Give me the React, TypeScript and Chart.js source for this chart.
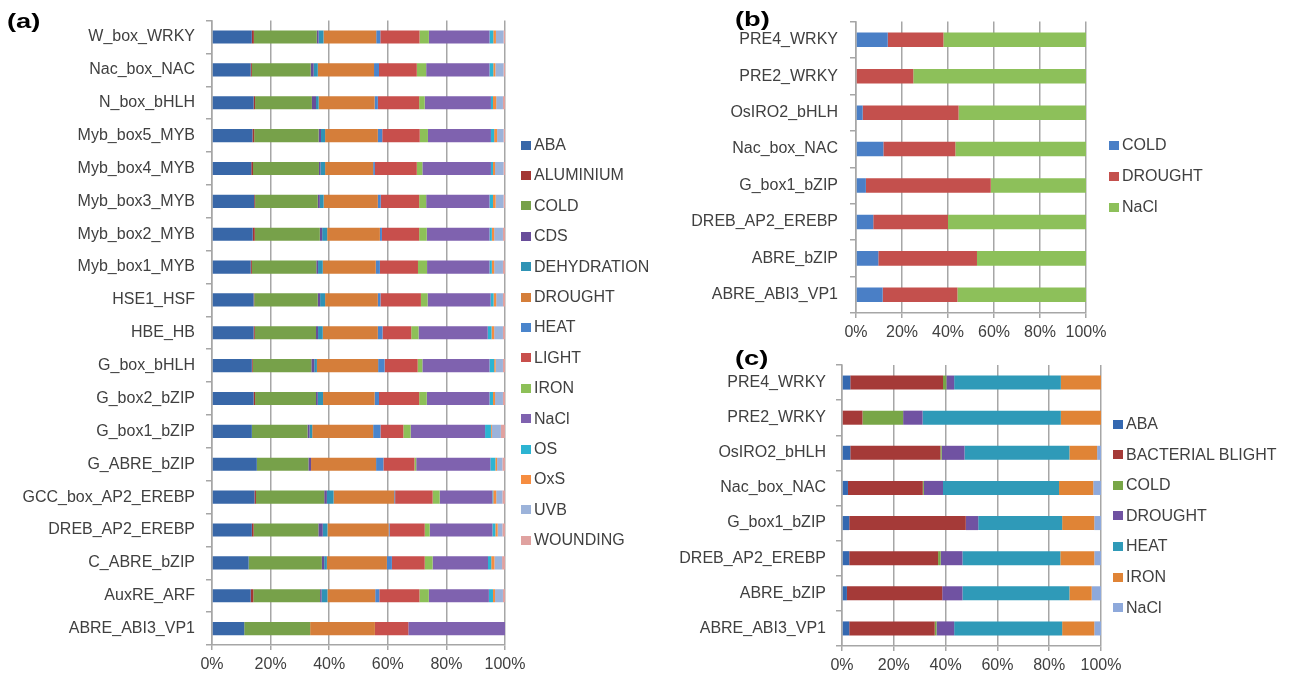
import React, { useEffect, useRef } from "react";
import { Chart, registerables } from "chart.js";

Chart.register(...registerables);

const FONT = "'Liberation Sans', Arial, sans-serif";
const TEXT = "#404040";
const GRID = "#A6A6A6";

// ---------- Panel (a) ----------
const catsA = [
  "W_box_WRKY", "Nac_box_NAC", "N_box_bHLH", "Myb_box5_MYB", "Myb_box4_MYB",
  "Myb_box3_MYB", "Myb_box2_MYB", "Myb_box1_MYB", "HSE1_HSF", "HBE_HB",
  "G_box_bHLH", "G_box2_bZIP", "G_box1_bZIP", "G_ABRE_bZIP", "GCC_box_AP2_EREBP",
  "DREB_AP2_EREBP", "C_ABRE_bZIP", "AuxRE_ARF", "ABRE_ABI3_VP1",
];
const abaA = [13.6, 13.2, 14.2, 13.8, 13.4, 14.4, 13.9, 13.2, 14.2, 14.2, 13.6, 14.2, 13.6, 15.3, 14.5, 13.6, 12.5, 13.2, 11.0];
const aluminiumA = [0.7, 0.4, 0.5, 0.6, 0.6, 0.3, 0.7, 0.4, 0.2, 0.4, 0.3, 0.5, 0, 0, 0.5, 0.6, 0, 0.9, 0];
const coldA = [21.5, 20.1, 19.4, 22.0, 22.5, 21.4, 22.2, 22.0, 21.7, 20.9, 20.0, 20.8, 19.0, 17.6, 23.3, 22.1, 25.0, 22.8, 22.5];
const cdsA = [0.6, 1.0, 1.4, 0.8, 0.5, 0.7, 0.8, 0.6, 0.8, 0.7, 1.0, 0.6, 0.7, 0.9, 0.9, 1.5, 0.8, 0.5, 0];
const dehydrationA = [1.7, 1.4, 0.9, 1.4, 1.6, 1.3, 1.7, 1.6, 1.7, 1.6, 0.9, 1.8, 0.9, 0, 2.3, 1.6, 0.9, 2.0, 0];
const droughtA = [18.0, 19.2, 19.1, 18.0, 16.4, 18.5, 18.0, 18.1, 18.0, 18.8, 20.9, 17.6, 20.8, 22.2, 20.7, 20.9, 20.5, 16.3, 22.1];
const heatA = [1.4, 1.7, 1.1, 1.5, 0.6, 1.0, 0.7, 1.4, 0.9, 1.6, 2.2, 1.5, 2.5, 2.5, 0.3, 0.3, 1.7, 1.4, 0];
const lightA = [13.4, 12.9, 14.1, 12.8, 14.3, 13.1, 12.7, 13.0, 13.8, 9.8, 11.3, 13.7, 7.8, 10.6, 12.8, 12.0, 11.2, 13.7, 11.4];
const ironA = [3.2, 3.2, 1.9, 2.8, 1.9, 2.4, 2.6, 3.1, 2.3, 2.5, 1.6, 2.6, 2.5, 0.6, 2.4, 1.7, 2.7, 3.2, 0];
const naclA = [20.7, 21.6, 22.6, 21.5, 23.4, 21.6, 21.4, 21.3, 21.5, 23.6, 22.9, 21.4, 25.4, 25.3, 18.0, 21.4, 18.9, 20.5, 33.0];
const osA = [1.3, 1.3, 0.7, 1.1, 0.7, 1.2, 0.8, 0.8, 1.0, 1.3, 1.6, 1.2, 2.0, 1.7, 0.3, 1.0, 1.1, 1.4, 0];
const oxsA = [0.9, 0.7, 1.1, 1.0, 0.7, 0.9, 0.8, 0.8, 0.9, 0.9, 0.5, 0.7, 0.3, 0.6, 1.0, 0.8, 1.1, 0.7, 0];
const uvbA = [2.6, 2.8, 2.3, 2.2, 2.9, 2.7, 3.0, 3.0, 2.3, 3.0, 2.5, 2.7, 3.1, 1.8, 2.1, 1.6, 2.6, 2.7, 0];
const woundingA = [0.5, 0.5, 0.7, 0.5, 0.5, 0.5, 0.7, 0.7, 0.7, 0.7, 0.7, 0.7, 1.4, 0.9, 0.9, 0.9, 1.0, 0.7, 0];

// ---------- Panels (b) and (c) ----------
const catsBC = [
  "PRE4_WRKY", "PRE2_WRKY", "OsIRO2_bHLH", "Nac_box_NAC",
  "G_box1_bZIP", "DREB_AP2_EREBP", "ABRE_bZIP", "ABRE_ABI3_VP1",
];
const coldB = [13.8, 0, 2.9, 11.9, 4.3, 7.5, 9.7, 11.6];
const droughtB = [24.2, 24.9, 41.7, 31.3, 54.3, 32.5, 42.9, 32.5];
const naclB = [62.0, 75.1, 55.4, 56.8, 41.4, 60.0, 47.4, 55.9];

const abaC = [3.2, 0, 3.2, 2.3, 2.8, 2.8, 1.9, 2.8];
const blightC = [35.8, 7.9, 34.8, 28.9, 45.0, 34.3, 36.8, 33.0];
const coldC = [1.3, 15.7, 0.5, 0.4, 0, 1.0, 0, 0.7];
const droughtC = [3.0, 7.5, 8.8, 7.4, 4.8, 8.4, 7.8, 6.8];
const heatC = [41.2, 53.4, 40.5, 44.8, 32.4, 37.8, 41.3, 41.7];
const ironC = [15.5, 15.5, 10.7, 13.2, 12.4, 13.1, 8.6, 12.4];
const naclC = [0, 0, 1.5, 3.0, 2.6, 2.6, 3.6, 2.6];

const xTicks = [0, 20, 40, 60, 80, 100];

type Series = { label: string; data: number[]; color: string };

const seriesA: Series[] = [
  { label: "ABA", data: abaA, color: "#3867A8" },
  { label: "ALUMINIUM", data: aluminiumA, color: "#A33633" },
  { label: "COLD", data: coldA, color: "#77A14A" },
  { label: "CDS", data: cdsA, color: "#684D9A" },
  { label: "DEHYDRATION", data: dehydrationA, color: "#2F93B5" },
  { label: "DROUGHT", data: droughtA, color: "#D57E3A" },
  { label: "HEAT", data: heatA, color: "#4A85CC" },
  { label: "LIGHT", data: lightA, color: "#C84F4C" },
  { label: "IRON", data: ironA, color: "#8DC058" },
  { label: "NaCl", data: naclA, color: "#7F62AF" },
  { label: "OS", data: osA, color: "#2CB4D2" },
  { label: "OxS", data: oxsA, color: "#F68D40" },
  { label: "UVB", data: uvbA, color: "#9CB3DA" },
  { label: "WOUNDING", data: woundingA, color: "#E0A2A0" },
];

const seriesB: Series[] = [
  { label: "COLD", data: coldB, color: "#4A7FC6" },
  { label: "DROUGHT", data: droughtB, color: "#C4504D" },
  { label: "NaCl", data: naclB, color: "#8DC05A" },
];

const seriesC: Series[] = [
  { label: "ABA", data: abaC, color: "#3468B0" },
  { label: "BACTERIAL BLIGHT", data: blightC, color: "#A53A38" },
  { label: "COLD", data: coldC, color: "#78A647" },
  { label: "DROUGHT", data: droughtC, color: "#7052A2" },
  { label: "HEAT", data: heatC, color: "#2F9AB8" },
  { label: "IRON", data: ironC, color: "#E08436" },
  { label: "NaCl", data: naclC, color: "#8EA9DB" },
];

function toPercent(series: Series[]): Series[] {
  const n = series[0].data.length;
  const sums = Array.from({ length: n }, (_, i) =>
    series.reduce((s, d) => s + d.data[i], 0)
  );
  return series.map((s) => ({
    ...s,
    data: s.data.map((v, i) => (sums[i] > 0 ? (v / sums[i]) * 100 : 0)),
  }));
}

type PanelProps = {
  labels: string[];
  series: Series[];
  left: number;
  top: number;
  width: number;
  height: number;
  axisWidth: number;
  padTop: number;
  padRight: number;
  xAxisHeight: number;
  labelPad: number;
};

function Panel(p: PanelProps) {
  const ref = useRef<HTMLCanvasElement>(null);
  useEffect(() => {
    const norm = toPercent(p.series);
    const font = { family: FONT, size: 16 };
    const chart = new Chart(ref.current as HTMLCanvasElement, {
      type: "bar",
      data: {
        labels: p.labels,
        datasets: norm.map((s) => ({
          label: s.label,
          data: s.data,
          backgroundColor: s.color,
          borderWidth: 0,
          barPercentage: 0.4,
          categoryPercentage: 1,
        })),
      },
      options: {
        indexAxis: "y",
        animation: false,
        responsive: false,
        maintainAspectRatio: false,
        layout: { padding: { top: p.padTop, right: p.padRight, left: 0, bottom: 0 } },
        plugins: { legend: { display: false }, tooltip: { enabled: false } },
        scales: {
          x: {
            stacked: true,
            min: 0,
            max: 100,
            afterBuildTicks: (scale: any) => {
              scale.ticks = xTicks.map((v) => ({ value: v }));
            },
            ticks: {
              callback: (v: any) => v + "%",
              color: TEXT,
              font,
              padding: 5,
              maxRotation: 0,
            },
            grid: { color: GRID, lineWidth: 1.5, tickLength: 5, tickColor: GRID },
            border: { color: GRID, width: 1.5 },
            afterFit: (scale: any) => {
              scale.height = p.xAxisHeight;
            },
          },
          y: {
            stacked: true,
            ticks: { color: TEXT, font, padding: p.labelPad, autoSkip: false },
            grid: {
              drawOnChartArea: false,
              tickLength: 6,
              color: GRID,
              tickColor: GRID,
              lineWidth: 1.5,
            },
            border: { color: GRID, width: 1.5 },
            afterFit: (scale: any) => {
              scale.width = p.axisWidth;
            },
          },
        },
      } as any,
    });
    return () => chart.destroy();
  }, []);
  return (
    <canvas
      ref={ref}
      width={p.width}
      height={p.height}
      style={{ position: "absolute", left: p.left, top: p.top, width: p.width, height: p.height }}
    />
  );
}

function Legend({ series, left, top, gap }: { series: Series[]; left: number; top: number; gap: number }) {
  return (
    <div style={{ position: "absolute", left, top: 0 }}>
      {series.map((s, i) => (
        <div
          key={s.label}
          style={{
            position: "absolute",
            left: 0,
            top: top + i * gap - 10,
            height: 20,
            display: "flex",
            alignItems: "center",
            whiteSpace: "nowrap",
            fontFamily: FONT,
            fontSize: 16,
            color: TEXT,
          }}
        >
          <span style={{ display: "inline-block", width: 10, height: 9, background: s.color, marginRight: 3 }} />
          {s.label}
        </div>
      ))}
    </div>
  );
}

function Title({ text, left, top }: { text: string; left: number; top: number }) {
  return (
    <div
      style={{
        position: "absolute",
        left,
        top,
        fontFamily: FONT,
        fontWeight: "bold",
        fontSize: 21,
        lineHeight: "21px",
        color: "#000",
        transform: "scaleX(1.3)",
        transformOrigin: "left top",
        whiteSpace: "nowrap",
      }}
    >
      {text}
    </div>
  );
}

export default function App() {
  return (
    <div
      style={{
        position: "absolute",
        left: 0,
        top: 0,
        width: 1292,
        height: 674,
        background: "#fff",
        overflow: "hidden",
      }}
    >
      <Panel
        labels={catsA}
        series={seriesA}
        left={0}
        top={0}
        width={540}
        height={674}
        axisWidth={212}
        padTop={20}
        padRight={35}
        xAxisHeight={29}
        labelPad={11}
      />
      <Panel
        labels={catsBC}
        series={seriesB}
        left={670}
        top={0}
        width={450}
        height={340}
        axisWidth={186}
        padTop={20}
        padRight={34}
        xAxisHeight={27}
        labelPad={12}
      />
      <Panel
        labels={catsBC}
        series={seriesC}
        left={660}
        top={340}
        width={470}
        height={334}
        axisWidth={182}
        padTop={25}
        padRight={29}
        xAxisHeight={28}
        labelPad={10}
      />
      <Legend series={seriesA} left={521} top={145} gap={30.4} />
      <Legend series={seriesB} left={1109} top={145} gap={31} />
      <Legend series={seriesC} left={1113} top={424} gap={30.6} />
      <Title text="(a)" left={7} top={10} />
      <Title text="(b)" left={735} top={8} />
      <Title text="(c)" left={735} top={347} />
    </div>
  );
}
